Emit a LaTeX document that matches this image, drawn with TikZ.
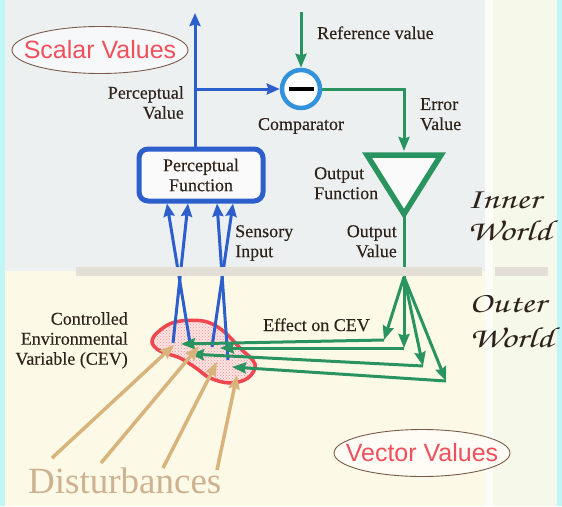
\documentclass[tikz,border=0pt]{standalone}
\usepackage{fontspec}
\setmainfont{Liberation Serif}
\newfontfamily\sansf{Liberation Sans}
\newfontfamily\lblf[FakeBold=0.35]{Liberation Serif}
\newfontfamily\myscript{texgyrechorus-mediumitalic.otf}
\usetikzlibrary{arrows.meta,shapes.geometric,patterns}
\definecolor{bgtop}{HTML}{EDF0F1}
\definecolor{bgbot}{HTML}{FDF9E7}
\definecolor{bgright}{HTML}{F6F8EA}
\definecolor{stripe}{HTML}{FCFCF8}
\definecolor{band}{HTML}{E3DFD6}
\definecolor{cyanb}{HTML}{C0F6F6}
\definecolor{blu}{HTML}{2C5ECC}
\definecolor{cblu}{HTML}{3392DC}
\definecolor{grn}{HTML}{2A9460}
\definecolor{tan}{HTML}{D8B47C}
\definecolor{disttxt}{HTML}{CDB291}
\definecolor{redtxt}{HTML}{F0505C}
\definecolor{cevred}{HTML}{F0464F}
\definecolor{cevfill}{HTML}{FCE4E2}
\definecolor{ellbrown}{HTML}{7A5A48}
\definecolor{txt}{HTML}{2E231B}
\tikzset{
  lbl/.style={font=\lblf\fontsize{18}{20}\selectfont, text=txt, inner sep=0pt},
  ellbox/.style={ellipse, draw=ellbrown, line width=0.9pt, fill=white!55!bgtop, minimum width=176pt, minimum height=47pt, inner sep=0pt},
  valtxt/.style={font=\sansf\fontsize{25}{28}\selectfont, text=redtxt, inner sep=0pt},
  worldtxt/.style={font=\myscript\fontsize{29}{33}\selectfont, text=txt, inner sep=0pt, anchor=base west},
  barb/.style={-{Stealth[length=13pt,width=11pt,inset=1.5pt]}, blu, line width=3pt},
  garb/.style={-{Stealth[length=14pt,width=11pt,inset=1.5pt]}, grn, line width=3pt},
  tarb/.style={-{Stealth[length=14pt,width=11pt,inset=1.5pt]}, tan, line width=3.5pt}
}
\begin{document}
\begin{tikzpicture}[x=1pt,y=-1pt]
\useasboundingbox (0,0) rectangle (562,506);
% backgrounds
\fill[bgtop] (0,0) rectangle (562,271);
\fill[bgbot] (0,271) rectangle (562,506);
\fill[bgright] (493,0) rectangle (557,506);
\fill[stripe] (485,0) rectangle (493,506);
\fill[cyanb] (0,0) rectangle (5,506);
\fill[cyanb] (557,0) rectangle (562,506);

% value ellipses
\node[ellbox] (scalar) at (100,50) {};
\node[valtxt] (scalartxt) at (scalar.center) {Scalar Values};
\node[ellbox, fill=white!55!bgbot] (vector) at (422,453) {};
\node[valtxt] (vectortxt) at (vector.center) {Vector Values};

% main nodes
\node[draw=blu, line width=5pt, rounded corners=9pt, fill=white!70!bgtop,
      minimum width=124pt, minimum height=52pt, align=center,
      font=\lblf\fontsize{18}{20}\selectfont, text=txt, inner sep=0pt] (pf) at (201,175) {Perceptual\\Function};
\node[circle, draw=cblu, line width=4.5pt, fill=white, minimum size=38pt, inner sep=0pt] (cmp) at (301,89) {};
\draw[black, line width=3.5pt] ([xshift=-12.5pt]cmp.center) -- ([xshift=12.5pt]cmp.center);

% output function triangle
\coordinate (oft1) at (367,155);
\coordinate (oft2) at (441,155);
\coordinate (ofb) at (404,214);
\coordinate (oftop) at (404,151);
\draw[grn, line width=5.5pt, line join=miter, fill=white!70!bgtop] (oft1) -- (oft2) -- (ofb) -- cycle;

% CEV blob
\coordinate (cev) at (205,352);
\path[fill=cevfill] plot[smooth cycle, tension=0.6] coordinates {(152,342) (158,332) (175,322) (203,321) (222,330) (240,348) (255,364) (248,378) (230,383) (210,378) (196,368) (180,358) (160,351)};
\path[pattern=crosshatch dots, pattern color=cevred!60] plot[smooth cycle, tension=0.6] coordinates {(152,342) (158,332) (175,322) (203,321) (222,330) (240,348) (255,364) (248,378) (230,383) (210,378) (196,368) (180,358) (160,351)};
\draw[cevred, line width=3.5pt] plot[smooth cycle, tension=0.6] coordinates {(152,342) (158,332) (175,322) (203,321) (222,330) (240,348) (255,364) (248,378) (230,383) (210,378) (196,368) (180,358) (160,351)};

% coordinates
\coordinate (pvtop) at (195,13);
\coordinate (pvbr) at (195,89);
\coordinate (refin) at (301,12);
\coordinate (errc) at (404,89);
\coordinate (fan) at (404,277);
\coordinate (t1) at (384,340);
\coordinate (t2) at (404,348);
\coordinate (t3) at (423,366);
\coordinate (t4) at (446,381);
\coordinate (e1) at (181,344);
\coordinate (e2) at (190,354);
\coordinate (e3) at (220,348);
\coordinate (e4) at (232,367);
\coordinate (sb1) at (173,343);
\coordinate (sb2) at (190,343);
\coordinate (sb3) at (212,347);
\coordinate (sb4) at (228,360);
\coordinate (d1s) at (52,458);
\coordinate (d2s) at (101,463);
\coordinate (d3s) at (163,468);
\coordinate (d4s) at (217,470);
\coordinate (d1) at (174,345);
\coordinate (d2) at (199,346);
\coordinate (d3) at (217,362);
\coordinate (d4) at (237,375);

% blue arrows
\draw[barb] ([xshift=-6pt]pf.north) -- (pvtop);
\draw[barb] (pvbr) -- (cmp.west);
\draw[barb] (sb1) -- ([xshift=-13pt]pf.south);
\draw[barb] (sb2) -- ([xshift=-34pt]pf.south);
\draw[barb] (sb3) -- ([xshift=32pt]pf.south);
\draw[barb] (sb4) -- ([xshift=16pt]pf.south);

% green arrows
\draw[garb] (refin) -- (cmp.north);
\draw[garb] (cmp.east) -- (errc) -- (oftop);
\draw[grn, line width=3pt] (ofb) -- (fan);
\draw[garb] (fan) -- (t1);
\draw[garb] (fan) -- (t2);
\draw[garb] (fan) -- (t3);
\draw[garb] (fan) -- (t4);
\draw[garb] (t1) -- (e1);
\draw[garb] (t2) -- (e3);
\draw[garb] (t3) -- (e2);
\draw[garb] (t4) -- (e4);

% disturbances
\draw[tarb] (d1s) -- (d1);
\draw[tarb] (d2s) -- (d2);
\draw[tarb] (d3s) -- (d3);
\draw[tarb] (d4s) -- (d4);

% band between worlds
\fill[band] (76,267) rectangle (482,276);
\fill[band] (495,267) rectangle (548,276);

% labels
\node[lbl, anchor=base west] (reflbl) at (317,39) {Reference value};
\node[lbl, anchor=north east, align=right] (pvlbl) at (184,86) {Perceptual\\Value};
\node[lbl, anchor=base] (cmplbl) at (301,130) {Comparator};
\node[lbl, anchor=north west, align=left] (errlbl) at (420,98) {Error\\Value};
\node[lbl, anchor=north west, align=left] (oflbl) at (314,167) {Output\\Function};
\node[lbl, anchor=north east, align=right] (ovlbl) at (397,225) {Output\\Value};
\node[lbl, anchor=north west, align=left] (silbl) at (235,225) {Sensory\\Input};
\node[lbl, anchor=north east, align=right] (cevlbl) at (128,312) {Controlled\\Environmental\\Variable (CEV)};
\node[lbl, anchor=base west] (efflbl) at (263,331) {Effect on CEV};
\node[inner sep=0pt, anchor=base west, font=\fontsize{37}{40}\selectfont, text=disttxt] (dist) at (28,493) {Disturbances};
\node[worldtxt] (inner) at (467,208) {\scalebox{1.3}[1]{\begin{tabular}[t]{@{}l@{}}Inner\\[-1pt]World\end{tabular}}};
\node[worldtxt] (outer) at (469,312) {\scalebox{1.3}[1]{\begin{tabular}[t]{@{}l@{}}Outer\\[2pt]World\end{tabular}}};
\end{tikzpicture}
\end{document}
